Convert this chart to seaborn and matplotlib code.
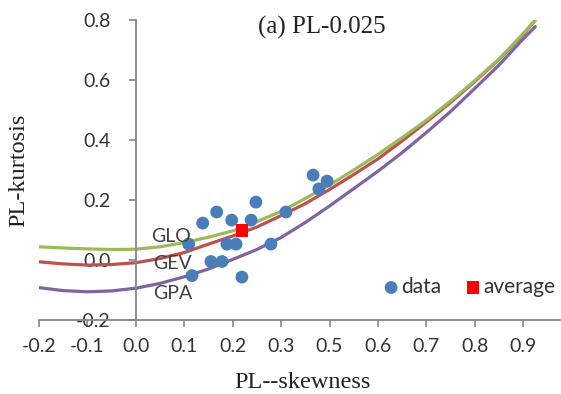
import seaborn as sns
import matplotlib.pyplot as plt
import numpy as np

# Data (x in tick-position units)
curve_x = [-0.2, -0.15, -0.1, -0.05, 0.0, 0.05, 0.1, 0.15, 0.2, 0.25, 0.3, 0.35,
           0.4, 0.45, 0.5, 0.55, 0.6, 0.65, 0.7, 0.75, 0.8, 0.825]
glo_y = [0.044, 0.040, 0.037, 0.035, 0.036, 0.044, 0.058, 0.076, 0.097, 0.128, 0.162, 0.205,
         0.250, 0.300, 0.352, 0.408, 0.466, 0.530, 0.598, 0.670, 0.755, 0.800]
gev_y = [-0.006, -0.013, -0.017, -0.015, -0.009, 0.005, 0.025, 0.053, 0.080, 0.110, 0.148, 0.188,
         0.235, 0.285, 0.337, 0.397, 0.460, 0.525, 0.595, 0.668, 0.752, 0.800]
gpa_y = [-0.092, -0.102, -0.106, -0.103, -0.094, -0.078, -0.056, -0.030, 0.002, 0.035, 0.075, 0.125,
         0.180, 0.238, 0.296, 0.358, 0.425, 0.495, 0.572, 0.650, 0.737, 0.778]

data_x = [0.167, 0.138, 0.198, 0.238, 0.248, 0.310, 0.366, 0.395, 0.378,
          0.109, 0.188, 0.207, 0.279, 0.155, 0.178, 0.116, 0.219]
data_y = [0.160, 0.123, 0.133, 0.133, 0.193, 0.160, 0.283, 0.263, 0.237,
          0.053, 0.053, 0.053, 0.053, -0.005, -0.005, -0.052, -0.057]
avg_x = [0.219]
avg_y = [0.098]

xtick_pos = [-0.2, -0.1, 0.0, 0.1, 0.2, 0.3, 0.4, 0.5, 0.6, 0.7, 0.8]
xtick_labels = ['-0.2', '-0.1', '0.0', '0.1', '0.2', '0.3', '0.5', '0.6', '0.7', '0.8', '0.9']
ytick_pos = [-0.2, 0.0, 0.2, 0.4, 0.6, 0.8]
ytick_labels = ['-0.2', '0.0', '0.2', '0.4', '0.6', '0.8']

sns.set_style('white')
plt.rcParams['font.family'] = ['Lato', 'DejaVu Sans']

fig = plt.figure(figsize=(5.61, 3.94), dpi=100)
ax = fig.add_axes([0.0695, 0.1878, 0.9305, 0.7614])

sns.lineplot(x=curve_x, y=gpa_y, ax=ax, color='#8064A2', lw=2.3, sort=False)
sns.lineplot(x=curve_x, y=gev_y, ax=ax, color='#C0504D', lw=2.3, sort=False)
sns.lineplot(x=curve_x, y=glo_y, ax=ax, color='#9BBB59', lw=2.3, sort=False)

h1 = ax.scatter(data_x, data_y, s=85, color='#4A7EBB', edgecolor='none', zorder=3, label='data')
h2 = ax.scatter(avg_x, avg_y, s=80, marker='s', color='#FF0000', edgecolor='none', zorder=4, label='average')

txt = dict(fontsize=14, color='#404040', ha='center', va='center')
ax.text(0.072, 0.080, 'GLO', **txt)
ax.text(0.076, -0.013, 'GEV', **txt)
ax.text(0.076, -0.110, 'GPA', **txt)

ax.set_xlim(-0.2, 0.878)
ax.set_ylim(-0.2, 0.8)
ax.set_xticks(xtick_pos)
ax.set_xticklabels(xtick_labels)
ax.set_yticks(ytick_pos)
ax.set_yticklabels(ytick_labels)

for s in ['top', 'right']:
    ax.spines[s].set_visible(False)
ax.spines['left'].set_position(('data', 0))
for s in ['left', 'bottom']:
    ax.spines[s].set_color('#868686')
    ax.spines[s].set_linewidth(1.3)

ax.tick_params(axis='x', direction='out', length=5, width=1.2, color='#868686',
               labelsize=14, labelcolor='#333333', pad=8, bottom=True)
ax.tick_params(axis='y', direction='out', length=5, width=1.2, color='#868686',
               labelsize=14, labelcolor='#333333', pad=13, left=True)

serif = dict(family='Liberation Serif', color='#222222', ha='center', va='center')
fig.text(322 / 561, 1 - 27 / 394, '(a) PL-0.025', fontsize=18, **serif)
fig.text(302 / 561, 1 - 382 / 394, 'PL--skewness', fontsize=17.5, **serif)
fig.text(19 / 561, 1 - 170 / 394, 'PL-kurtosis', fontsize=17.5, rotation=90, **serif)

ax.legend(handles=[h1, h2], loc='center right', bbox_to_anchor=(1.005, 0.11), ncol=2,
          frameon=False, fontsize=15, handletextpad=-0.5, columnspacing=0.5,
          borderaxespad=0, labelcolor='#333333', markerscale=1.0)

plt.savefig('out.png', dpi=100)
